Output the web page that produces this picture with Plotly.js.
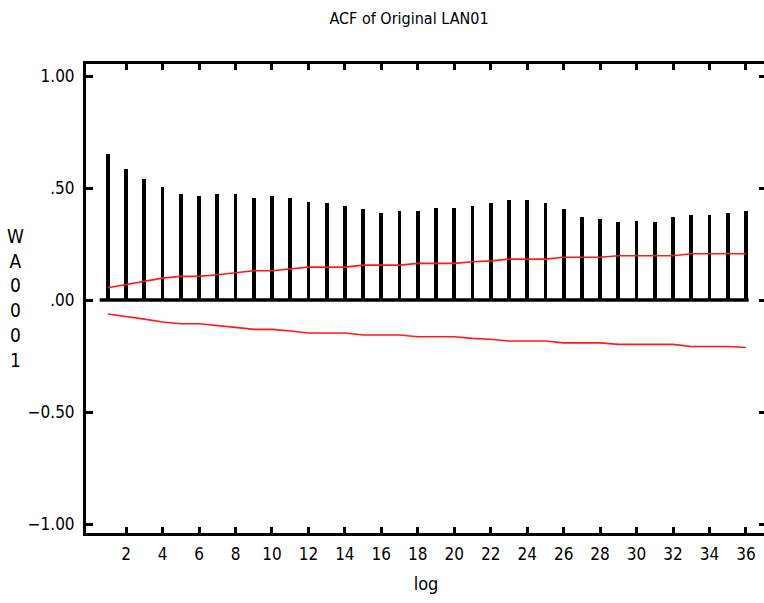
<!DOCTYPE html>
<html>
<head>
<meta charset="utf-8">
<script src="https://cdn.plot.ly/plotly-3.0.1.min.js"></script>
<style>
html,body{margin:0;padding:0;overflow:hidden;background:#fff;width:764px;height:603px;}
#chart{width:770px;height:603px;}
</style>
</head>
<body>
<div id="chart"></div>
<script>
const lags = [1,2,3,4,5,6,7,8,9,10,11,12,13,14,15,16,17,18,19,20,21,22,23,24,25,26,27,28,29,30,31,32,33,34,35,36];
const acfValues = [0.650,0.583,0.540,0.506,0.473,0.464,0.473,0.473,0.457,0.464,0.455,0.439,0.432,0.421,0.405,0.390,0.397,0.397,
                   0.412,0.412,0.421,0.432,0.448,0.448,0.432,0.405,0.372,0.363,0.347,0.354,0.347,0.372,0.379,0.379,0.388,0.396];
const upperBand = [0.055,0.070,0.085,0.098,0.106,0.106,0.113,0.122,0.131,0.131,0.138,0.147,0.147,0.147,0.156,0.156,0.156,0.164,
                   0.164,0.164,0.171,0.175,0.183,0.183,0.183,0.191,0.191,0.191,0.198,0.198,0.198,0.198,0.207,0.207,0.207,0.207];
const lowerBand = [-0.062,-0.072,-0.085,-0.098,-0.106,-0.106,-0.113,-0.122,-0.131,-0.131,-0.138,-0.147,-0.147,-0.147,-0.156,-0.156,-0.156,-0.164,
                   -0.164,-0.164,-0.171,-0.175,-0.183,-0.183,-0.183,-0.191,-0.191,-0.191,-0.198,-0.198,-0.198,-0.198,-0.207,-0.207,-0.207,-0.212];
const xTickVals = [2,4,6,8,10,12,14,16,18,20,22,24,26,28,30,32,34,36];
const yTickVals = [1, 0.5, 0, -0.5, -1];
const yTickText = ["1.00", ".50", ".00", "\u22120.50", "\u22121.00"];
const titleText = "ACF of Original LAN01";
const xTitle = "log";
const yLabelChars = ["W","A","0","0","0","1"];

const FONT = "'Liberation Sans Narrow', 'DejaVu Sans Condensed', 'Arial Narrow', sans-serif";

const traces = [
  {type:'bar', x:lags, y:acfValues, width:0.21, marker:{color:'#000000', line:{width:0}}, hoverinfo:'x+y', showlegend:false},
  {type:'scatter', mode:'lines', x:lags, y:upperBand, line:{color:'#ff1a1a', width:1.6}, showlegend:false},
  {type:'scatter', mode:'lines', x:lags, y:lowerBand, line:{color:'#ff1a1a', width:1.6}, showlegend:false}
];

const layout = {
  width:770, height:603,
  margin:{l:86, r:4, t:64, b:70, pad:0},
  paper_bgcolor:'#ffffff', plot_bgcolor:'#ffffff',
  font:{family:FONT, color:'#000000', size:17},
  bargap:0,
  title:{text:titleText, font:{family:FONT, size:16, color:'#000'}, xref:'container', x:409/770, xanchor:'center', yref:'container', y:1-18/603, yanchor:'middle'},
  xaxis:{
    range:[-0.2, 37.1], showgrid:false, zeroline:false,
    showline:true, linecolor:'#000', linewidth:3, mirror:'ticks',
    ticks:'inside', ticklen:6, tickwidth:3, tickcolor:'#000',
    tickmode:'array', tickvals:xTickVals, ticktext:xTickVals.map(String),
    tickfont:{family:FONT, size:17}, ticklabelstandoff:4,
    title:{text:xTitle, font:{family:FONT, size:18}, standoff:14}
  },
  yaxis:{
    range:[-1.040, 1.054], showgrid:false, zeroline:false,
    showline:true, linecolor:'#000', linewidth:3, mirror:'ticks',
    ticks:'inside', ticklen:7, tickwidth:3, tickcolor:'#000',
    tickmode:'array', tickvals:yTickVals, ticktext:yTickText,
    tickfont:{family:FONT, size:17}, ticklabelstandoff:5
  },
  shapes:[
    {type:'line', xref:'x', yref:'y', x0:0.55, x1:36.15, y0:0, y1:0, line:{color:'#000', width:3.5}}
  ],
  annotations:[
    {text:yLabelChars.join('<br>'), xref:'paper', yref:'paper', x:(15-86)/680, y:(533-298)/469,
     xanchor:'center', yanchor:'middle', showarrow:false, align:'center', font:{family:FONT, size:19, color:'#000'}}
  ]
};

Plotly.newPlot('chart', traces, layout, {staticPlot:true, displayModeBar:false});
</script>
</body>
</html>
